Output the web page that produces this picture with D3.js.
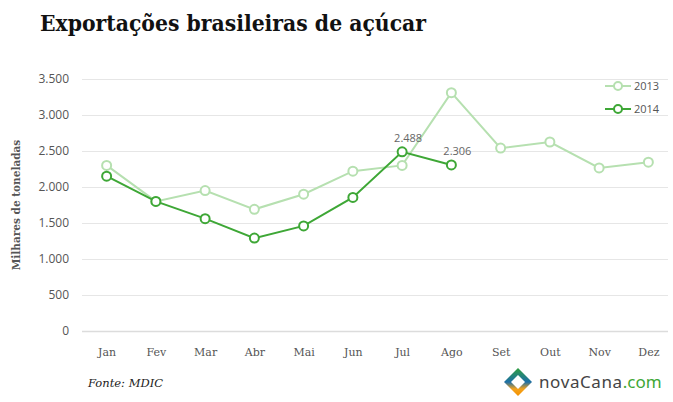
<!DOCTYPE html>
<html>
<head>
<meta charset="utf-8">
<script src="https://cdn.jsdelivr.net/npm/d3@7"></script>
<style>
  body { margin: 0; background: #fff; }
  svg { display: block; }
</style>
</head>
<body>
<div id="chart-area"></div>
<script>
const months = ["Jan","Fev","Mar","Abr","Mai","Jun","Jul","Ago","Set","Out","Nov","Dez"]
const values2013 = [2300, 1800, 1950, 1690, 1900, 2220, 2300, 3310, 2540, 2625, 2265, 2345]
const values2014 = [2150, 1800, 1560, 1290, 1460, 1855, 2488, 2306]
const yTicks = [0, 500, 1000, 1500, 2000, 2500, 3000, 3500]
const labelled2014 = ["Jul", "Ago"]

const W = 673, H = 402
const MARGIN = { LEFT: 82, RIGHT: 0, TOP: 79, BOTTOM: 71 }

const svg = d3.select("#chart-area").append("svg")
  .attr("width", W)
  .attr("height", H)

const x = d3.scalePoint()
  .domain(months)
  .range([MARGIN.LEFT, W - MARGIN.RIGHT])
  .padding(0.5)

const y = d3.scaleLinear()
  .domain([0, 3500])
  .range([H - MARGIN.BOTTOM, MARGIN.TOP])

const fmt = d => d3.format(",")(d).replace(/,/g, ".")

// title
svg.append("text")
  .attr("x", 40).attr("y", 31)
  .attr("font-family", "'DejaVu Serif', serif")
  .attr("font-weight", "bold")
  .attr("font-size", "22px")
  .attr("fill", "#111")
  .attr("textLength", 386)
  .attr("lengthAdjust", "spacingAndGlyphs")
  .text("Exportações brasileiras de açúcar")

// grid + y ticks
const yAxis = d3.axisLeft(y)
  .tickValues(yTicks)
  .tickSize(-(W - MARGIN.LEFT - 5))
  .tickPadding(13)
  .tickFormat(fmt)

const gy = svg.append("g")
  .attr("transform", `translate(${MARGIN.LEFT},0)`)
  .call(yAxis)
gy.select(".domain").remove()
gy.selectAll(".tick line").attr("stroke", "#e6e6e6").attr("stroke-width", 1)
gy.selectAll(".tick text")
  .attr("fill", "#555")
  .attr("font-family", "'Open Sans', sans-serif")
  .attr("font-size", "12px")
gy.selectAll(".tick").filter(d => d === 0).select("line").attr("stroke", "#dcdcdc").attr("stroke-width", 1.5)

// x axis
const gx = svg.append("g")
  .attr("transform", `translate(0,${H - MARGIN.BOTTOM})`)
  .call(d3.axisBottom(x).tickSize(0).tickPadding(17))
gx.select(".domain").remove()
gx.selectAll(".tick text")
  .attr("fill", "#555")
  .attr("font-family", "'DejaVu Serif', serif")
  .attr("font-size", "11px")

// y label
svg.append("text")
  .attr("transform", `translate(20,${(y(0) + y(3500)) / 2}) rotate(-90)`)
  .attr("text-anchor", "middle")
  .attr("font-family", "'DejaVu Serif', serif")
  .attr("font-weight", "bold")
  .attr("font-size", "10.5px")
  .attr("fill", "#555")
  .text("Milhares de toneladas")

const line = d3.line()
  .x((d, i) => x(months[i]))
  .y(d => y(d))

const series = [
  { name: "2013", data: values2013, color: "#b6e0b0" },
  { name: "2014", data: values2014, color: "#3ea736" }
]

series.forEach(s => {
  svg.append("path")
    .datum(s.data)
    .attr("fill", "none")
    .attr("stroke", s.color)
    .attr("stroke-width", 2)
    .attr("d", line)

  svg.selectAll(null)
    .data(s.data)
    .enter().append("circle")
    .attr("cx", (d, i) => x(months[i]))
    .attr("cy", d => y(d))
    .attr("r", 4.5)
    .attr("fill", "#fff")
    .attr("stroke", s.color)
    .attr("stroke-width", 2)
})

// value labels
svg.selectAll(null)
  .data(values2014.map((v, i) => ({ m: months[i], v })).filter(d => labelled2014.includes(d.m)))
  .enter().append("text")
  .attr("x", d => x(d.m) + 6)
  .attr("y", d => y(d.v) - 10)
  .attr("text-anchor", "middle")
  .attr("font-family", "'Open Sans', sans-serif")
  .attr("font-size", "11px")
  .attr("fill", "#666")
  .text(d => fmt(d.v))

// legend
const legend = svg.append("g")
series.forEach((s, i) => {
  const ly = 86 + i * 23
  legend.append("line")
    .attr("x1", 605).attr("x2", 631).attr("y1", ly).attr("y2", ly)
    .attr("stroke", s.color).attr("stroke-width", 2)
  legend.append("circle")
    .attr("cx", 618).attr("cy", ly).attr("r", 4)
    .attr("fill", "#fff").attr("stroke", s.color).attr("stroke-width", 2)
  legend.append("text")
    .attr("x", 634).attr("y", ly + 4)
    .attr("font-family", "'Open Sans', sans-serif")
    .attr("font-size", "11px")
    .attr("fill", "#555")
    .text(s.name)
})

// source
svg.append("text")
  .attr("x", 88).attr("y", 387)
  .attr("font-family", "'DejaVu Serif', serif")
  .attr("font-style", "italic")
  .attr("font-size", "11.5px")
  .attr("fill", "#222")
  .text("Fonte: MDIC")

// logo
const logo = svg.append("g").attr("transform", "translate(518,382)")
const defs = svg.append("defs")
const grad = defs.append("linearGradient").attr("id", "lg").attr("x1", 0).attr("y1", 0).attr("x2", 0).attr("y2", 1)
grad.append("stop").attr("offset", "0%").attr("stop-color", "#2f9e3f")
grad.append("stop").attr("offset", "50%").attr("stop-color", "#1d6fa8")
grad.append("stop").attr("offset", "75%").attr("stop-color", "#f5a21b")
grad.append("stop").attr("offset", "100%").attr("stop-color", "#f29100")
logo.append("path")
  .attr("d", "M0,-14 L14,0 L0,14 L-14,0 Z")
  .attr("fill", "url(#lg)")
logo.append("path")
  .attr("d", "M0,-7 L7,0 L0,7 L-7,0 Z")
  .attr("fill", "#fff")
svg.append("text")
  .attr("x", 539).attr("y", 388)
  .attr("font-family", "'Noto Sans', sans-serif")
  .attr("font-size", "17px")
  .attr("fill", "#444")
  .attr("letter-spacing", "0.6px")
  .text("novaCana")
  .append("tspan")
  .attr("fill", "#3ea736")
  .attr("letter-spacing", "0px")
  .text(".com")
</script>
</body>
</html>
